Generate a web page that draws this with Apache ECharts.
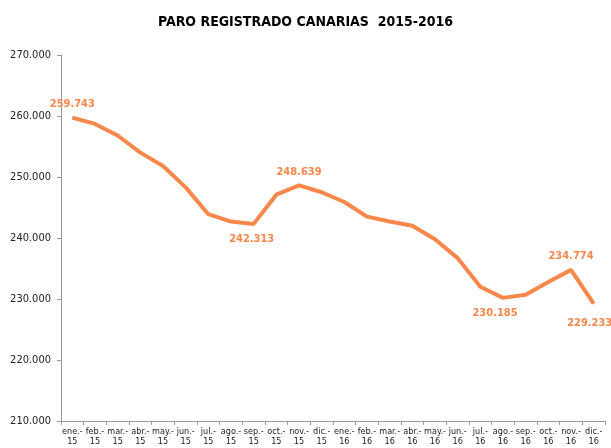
<!DOCTYPE html>
<html>
<head>
<meta charset="utf-8">
<script src="https://cdn.jsdelivr.net/npm/echarts@6/dist/echarts.min.js"></script>
<style>
  html, body { margin: 0; padding: 0; background: #fff; }
  #chart { width: 611px; height: 448px; }
</style>
</head>
<body>
<div id="chart"></div>
<script>
// meses (etiquetas del eje x)
var meses = ['ene.-\n15', 'feb.-\n15', 'mar.-\n15', 'abr.-\n15', 'may.-\n15', 'jun.-\n15',
  'jul.-\n15', 'ago.-\n15', 'sep.-\n15', 'oct.-\n15', 'nov.-\n15', 'dic.-\n15',
  'ene.-\n16', 'feb.-\n16', 'mar.-\n16', 'abr.-\n16', 'may.-\n16', 'jun.-\n16',
  'jul.-\n16', 'ago.-\n16', 'sep.-\n16', 'oct.-\n16', 'nov.-\n16', 'dic.-\n16'];
// paro registrado
var paro = [259743, 258700, 256800, 254000, 251800, 248300,
  243900, 242700, 242313, 247100, 248639, 247500,
  245900, 243500, 242700, 242000, 239800, 236700,
  232000, 230185, 230700, 232800, 234774, 229233];
// puntos con etiqueta y donde va
var etiquetas = { 0: 'top', 8: 'bottom', 10: 'top', 19: 'bottom', 22: 'top', 23: 'bottom' };
// pequenos ajustes de la etiqueta (como en el original)
var desplaz = { 8: [-2, 2], 19: [-8, 2], 23: [-4, 6] };

var naranja = '#F7874A';

function fmt(v) {
  return String(v).replace(/\B(?=(\d{3})+(?!\d))/g, '.');
}

var datos = paro.map(function (v, i) {
  var d = { value: v };
  if (etiquetas[i]) {
    d.label = { show: true, position: etiquetas[i], offset: desplaz[i] || [0, 0] };
  }
  return d;
});

var chart = echarts.init(document.getElementById('chart'));
chart.setOption({
  animation: false,
  title: {
    text: 'PARO REGISTRADO CANARIAS  2015-2016',
    left: 'center',
    top: 10,
    textStyle: { fontFamily: 'DejaVu Sans Condensed', fontWeight: 'bold', fontSize: 14, color: '#000' }
  },
  grid: { left: 61, right: 6, top: 55, bottom: 27 },
  xAxis: {
    type: 'category',
    data: meses,
    boundaryGap: true,
    axisLine: { lineStyle: { color: '#9a9a9a' } },
    axisTick: { show: true, length: 4, lineStyle: { color: '#9a9a9a' } },
    axisLabel: { interval: 0, fontSize: 9, lineHeight: 10, color: '#222', margin: 6, fontFamily: 'DejaVu Sans Condensed' }
  },
  yAxis: {
    type: 'value',
    min: 210000,
    max: 270000,
    interval: 10000,
    splitLine: { show: false },
    axisLine: { show: true, lineStyle: { color: '#9a9a9a' } },
    axisTick: { show: true, length: 4, lineStyle: { color: '#9a9a9a' } },
    axisLabel: { fontSize: 11, color: '#222', margin: 10, fontFamily: 'DejaVu Sans Condensed', formatter: fmt }
  },
  series: [{
    type: 'line',
    data: datos,
    symbol: 'circle',
    symbolSize: 0,
    showSymbol: true,
    lineStyle: { color: naranja, width: 4 },
    itemStyle: { color: naranja },
    label: {
      show: false,
      color: naranja,
      fontWeight: 'bold',
      fontSize: 11,
      fontFamily: 'DejaVu Sans Condensed',
      distance: 8,
      formatter: function (p) { return fmt(p.value); }
    }
  }]
});
</script>
</body>
</html>
